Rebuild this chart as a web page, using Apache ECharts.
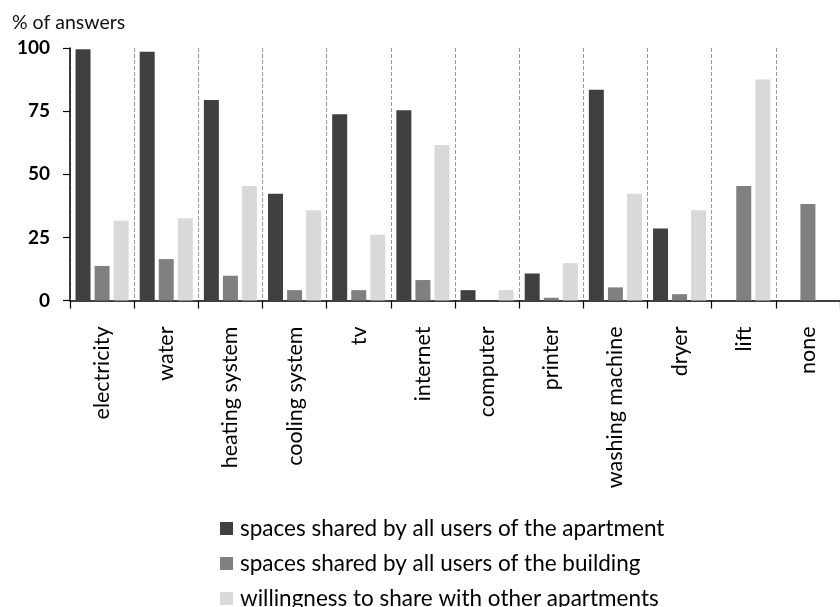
<!DOCTYPE html>
<html>
<head>
<meta charset="utf-8">
<script src="https://cdn.jsdelivr.net/npm/echarts@6/dist/echarts.min.js"></script>
<style>
  html, body { margin: 0; padding: 0; background: #ffffff; }
  #chart { width: 840px; height: 607px; }
</style>
</head>
<body>
<div id="chart"></div>
<script>
// Equipment / services categories
const categories = ['electricity', 'water', 'heating system', 'cooling system', 'tv', 'internet',
  'computer', 'printer', 'washing machine', 'dryer', 'lift', 'none'];

// Share of answers (%) per category
const apartmentShared = [99.5, 98.5, 79.4, 42.3, 73.8, 75.3, 4.1, 10.7, 83.5, 28.5, 0, 0];
const buildingShared  = [13.7, 16.4, 9.8, 4.1, 4.1, 8.1, 0, 1.1, 5.2, 2.5, 45.3, 38.2];
const willingness     = [31.6, 32.6, 45.3, 35.7, 26.0, 61.6, 4.1, 14.8, 42.3, 35.7, 87.5, 0];

const seriesNames = [
  'spaces shared by all users of the apartment',
  'spaces shared by all users of the building',
  'willingness to share with other apartments'
];
const seriesColors = ['#404040', '#808080', '#d9d9d9'];

// Value axis ticks
const yMin = 0, yMax = 100, yStep = 25;

const FONT = 'Lato';

const chart = echarts.init(document.getElementById('chart'));

const bar = (name, data, color) => ({
  name: name,
  type: 'bar',
  data: data,
  barWidth: 15,
  barGap: '27%',
  itemStyle: { color: color },
  emphasis: { disabled: true }
});

chart.setOption({
  backgroundColor: '#ffffff',
  animation: false,
  textStyle: { fontFamily: FONT },
  title: {
    text: '% of answers',
    left: 7,
    top: 8,
    textStyle: { fontFamily: FONT, fontSize: 19.5, fontWeight: 'normal', color: '#111' }
  },
  grid: { left: 70, top: 48, width: 787.5, bottom: 306.5, containLabel: false },
  xAxis: {
    type: 'category',
    data: categories,
    boundaryGap: true,
    axisLine: { lineStyle: { color: '#000', width: 1.5 } },
    axisTick: { show: true, length: 8, lineStyle: { color: '#000', width: 1.2 } },
    axisLabel: {
      rotate: 90,
      interval: 0,
      margin: 26,
      fontFamily: FONT,
      fontSize: 21.5,
      color: '#000'
    },
    splitLine: { show: true, interval: 0, lineStyle: { color: '#999', type: 'dashed', width: 1 } }
  },
  yAxis: {
    type: 'value',
    min: yMin,
    max: yMax,
    interval: yStep,
    axisLine: { show: true, lineStyle: { color: '#000', width: 1.5 } },
    axisTick: { show: true, length: 7, lineStyle: { color: '#000', width: 1.2 } },
    axisLabel: {
      margin: 20,
      fontFamily: FONT,
      fontSize: 19,
      fontWeight: 'bold',
      color: '#000'
    },
    splitLine: { show: false }
  },
  legend: {
    orient: 'vertical',
    left: 215,
    top: 512,
    height: 100,
    itemWidth: 13,
    itemHeight: 13,
    itemGap: 12,
    icon: 'rect',
    textStyle: { fontFamily: FONT, fontSize: 22.5, color: '#000', padding: [0, 0, 0, 2] },
    data: seriesNames
  },
  series: [
    bar(seriesNames[0], apartmentShared, seriesColors[0]),
    bar(seriesNames[1], buildingShared, seriesColors[1]),
    bar(seriesNames[2], willingness, seriesColors[2])
  ]
});
</script>
</body>
</html>
